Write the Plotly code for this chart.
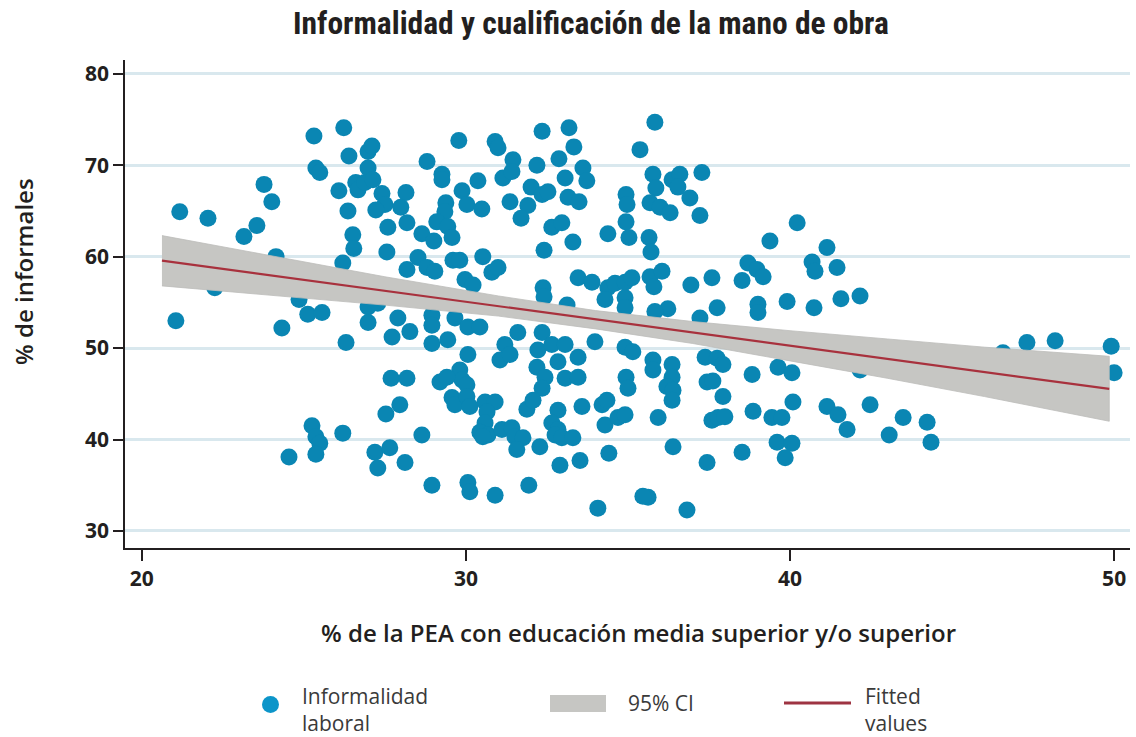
import plotly.graph_objects as go

# ---- data ----
pea_x = [21.17, 22.04, 23.77, 24.01, 23.55, 23.15, 24.14, 22.25, 25.31, 26.23, 26.39, 26.98, 27.10, 25.37, 25.49,
         26.98, 26.08, 26.60, 26.67, 26.88, 27.13, 27.41, 27.50, 27.22, 26.36, 26.51, 26.54, 27.59, 27.56, 26.20,
         24.85, 25.12, 25.56, 26.98, 27.28, 21.05, 24.32, 26.98, 26.30, 27.72, 27.69, 27.53, 25.25, 25.37, 25.49,
         25.37, 26.20, 24.54, 27.19, 27.65, 27.28, 29.78, 30.90, 30.99, 32.35, 33.18, 33.33, 28.80, 31.45, 32.87,
         32.19, 29.26, 29.26, 33.61, 33.73, 31.14, 31.42, 33.06, 30.37, 32.01, 29.88, 32.35, 32.53, 33.15, 33.49,
         28.15, 27.99, 29.38, 29.35, 30.03, 30.49, 31.36, 31.91, 31.70, 34.94, 34.97, 34.94, 35.03, 29.10, 28.18,
         29.44, 29.57, 28.64, 29.01, 32.65, 32.96, 34.38, 33.30, 32.41, 30.52, 29.60, 29.81, 28.52, 28.80, 28.18,
         29.04, 30.80, 30.99, 29.97, 30.22, 33.46, 33.89, 32.38, 32.41, 34.38, 34.60, 34.91, 35.12, 34.29, 34.91,
         27.90, 28.95, 29.66, 33.12, 34.91, 35.83, 35.37, 35.77, 35.86, 36.36, 36.60, 36.54, 36.91, 37.28, 37.22,
         35.68, 35.99, 36.30, 35.65, 35.71, 40.22, 39.38, 41.14, 35.68, 35.80, 36.05, 36.94, 37.59, 38.52, 38.70,
         38.98, 39.17, 40.68, 40.77, 41.45, 39.91, 40.74, 41.57, 42.16, 39.01, 39.01, 37.75, 36.23, 37.22, 28.27,
         28.95, 30.06, 30.43, 28.95, 29.44, 31.60, 32.35, 32.22, 32.19, 32.65, 33.06, 33.46, 33.98, 34.91, 31.20,
         31.05, 31.36, 30.06, 32.84, 29.81, 29.88, 28.18, 29.20, 29.41, 30.03, 32.44, 33.06, 33.46, 32.35, 34.94,
         35.00, 29.57, 29.66, 30.03, 30.12, 30.59, 30.90, 30.65, 30.59, 27.96, 31.88, 32.07, 32.84, 32.65, 32.84,
         33.58, 34.20, 34.35, 34.29, 34.69, 34.91, 30.43, 30.68, 30.52, 31.11, 31.42, 31.51, 31.76, 31.57, 32.75,
         32.96, 33.30, 28.64, 32.28, 34.41, 33.52, 32.90, 28.12, 28.95, 30.06, 30.12, 30.90, 31.94, 34.07, 35.83,
         35.15, 35.77, 35.77, 36.36, 36.36, 36.20, 36.39, 36.36, 37.38, 37.75, 37.93, 37.44, 37.62, 37.93, 38.83,
         39.63, 40.06, 40.09, 41.14, 41.48, 41.76, 42.47, 35.93, 37.59, 37.78, 37.99, 38.86, 39.44, 39.75, 39.60,
         40.06, 39.85, 36.39, 38.52, 37.44, 35.62, 36.82, 43.49, 44.23, 44.35, 43.06, 47.31, 48.18, 49.91, 50.00,
         46.57, 42.16, 35.46]
informal_y = [64.9, 64.2, 67.9, 66.0, 63.4, 62.2, 60.0, 56.6, 73.2, 74.1, 71.0, 71.5, 72.1, 69.7, 69.2,
              69.7, 67.2, 68.1, 67.3, 68.1, 68.4, 66.9, 65.7, 65.1, 65.0, 62.4, 60.9, 63.2, 60.5, 59.3,
              55.3, 53.7, 53.9, 54.5, 54.9, 53.0, 52.2, 52.8, 50.6, 51.2, 46.7, 42.8, 41.5, 40.3, 39.6,
              38.4, 40.7, 38.1, 38.6, 39.1, 36.9, 72.7, 72.6, 71.9, 73.7, 74.1, 72.0, 70.4, 70.6, 70.7,
              70.0, 69.0, 68.4, 69.7, 68.3, 68.6, 69.3, 68.6, 68.3, 67.6, 67.2, 66.8, 67.1, 66.5, 66.0,
              67.0, 65.4, 65.9, 64.9, 65.7, 65.2, 66.0, 65.6, 64.2, 66.8, 65.7, 63.8, 62.1, 63.8, 63.7,
              63.3, 62.1, 62.5, 61.7, 63.2, 63.7, 62.5, 61.6, 60.7, 60.0, 59.6, 59.6, 59.9, 58.8, 58.6,
              58.4, 58.3, 58.8, 57.5, 56.9, 57.7, 57.2, 56.6, 55.6, 56.6, 57.1, 57.2, 57.7, 55.3, 55.5,
              53.3, 53.6, 53.3, 54.7, 54.4, 74.7, 71.7, 69.0, 67.5, 68.4, 69.0, 67.6, 66.4, 69.2, 64.5,
              65.9, 65.4, 64.8, 62.1, 60.5, 63.7, 61.7, 61.0, 57.8, 56.7, 58.4, 56.9, 57.7, 57.4, 59.3,
              58.6, 57.8, 59.4, 58.4, 58.8, 55.1, 54.4, 55.4, 55.7, 54.8, 53.9, 54.4, 54.3, 53.3, 51.8,
              52.5, 52.3, 52.3, 50.5, 50.9, 51.7, 51.7, 49.8, 47.9, 50.4, 50.4, 49.0, 50.7, 50.1, 50.4,
              48.7, 49.3, 49.3, 48.5, 47.6, 46.5, 46.7, 46.3, 46.8, 46.0, 46.8, 46.7, 46.8, 45.6, 46.8,
              45.6, 44.6, 43.8, 44.7, 43.6, 44.1, 44.1, 43.0, 41.8, 43.8, 43.3, 44.3, 43.2, 41.8, 41.1,
              43.6, 43.8, 44.3, 41.6, 42.4, 42.7, 40.8, 40.5, 40.3, 41.1, 41.3, 40.3, 40.2, 38.9, 40.5,
              40.2, 40.2, 40.5, 39.2, 38.5, 37.7, 37.2, 37.5, 35.0, 35.3, 34.3, 33.9, 35.0, 32.5, 54.0,
              49.6, 48.7, 47.6, 48.2, 46.8, 45.8, 45.4, 44.3, 49.0, 48.9, 48.2, 46.3, 46.4, 44.7, 47.1,
              47.9, 47.3, 44.1, 43.6, 42.7, 41.1, 43.8, 42.4, 42.1, 42.4, 42.5, 43.1, 42.4, 42.4, 39.7,
              39.6, 38.0, 39.2, 38.6, 37.5, 33.7, 32.3, 42.4, 41.9, 39.7, 40.5, 50.6, 50.8, 50.2, 47.3,
              49.5, 47.6, 33.8]

fit_x = [20.62, 49.85]
fit_y = [59.57, 45.53]

ci_x = [20.62, 24, 27.5, 31, 34, 37, 40, 43, 46, 49.85]
ci_lo = [56.8, 55.8, 54.7, 53.5, 52.1, 50.5, 48.6, 46.7, 44.7, 42.0]
ci_hi = [62.3, 60.1, 57.8, 55.7, 54.1, 52.9, 51.9, 51.0, 50.1, 49.1]

x_ticks = [20, 30, 40, 50]
y_ticks = [30, 40, 50, 60, 70, 80]

title_text = "Informalidad y cualificación de la mano de obra"
x_title = "% de la PEA con educación media superior y/o superior"
y_title = "% de informales"
legend_labels = ["Informalidad<br>laboral", "95% CI", "Fitted<br>values"]

# ---- styles / layout ----
DOT = "#0a86b3"
BAND = "#c6c6c3"
LINE = "#a8313d"
DARK = "#231f20"
GRID = "#d9e8ee"
W, H = 1136, 737
# plot area in page pixels
PL, PR, PT, PB = 125, 1130, 60, 548


def px(xp):
    return (xp - PL) / (PR - PL)


def py(yp):
    return (PB - yp) / (PB - PT)


fig = go.Figure()
fig.add_trace(go.Scatter(x=pea_x, y=informal_y, mode="markers",
                         marker=dict(size=17, color=DOT, line=dict(width=0)),
                         name="Informalidad laboral", showlegend=False,
                         cliponaxis=False))
fig.add_trace(go.Scatter(x=ci_x + ci_x[::-1], y=ci_hi + ci_lo[::-1], mode="lines",
                         fill="toself", fillcolor=BAND, line=dict(width=0.8, color="#bdbdba"),
                         name="95% CI", showlegend=False, hoverinfo="skip"))
fig.add_trace(go.Scatter(x=fit_x, y=fit_y, mode="lines",
                         line=dict(color=LINE, width=2.2),
                         name="Fitted values", showlegend=False))

tick_font = dict(family="Open Sans, DejaVu Sans, sans-serif", size=21, color=DARK, weight=700)
title_font = dict(family="Open Sans, DejaVu Sans, sans-serif", size=24, color=DARK, weight=600)

fig.update_layout(
    width=W, height=H,
    margin=dict(l=PL, r=W - PR, t=PT, b=H - PB, autoexpand=False),
    paper_bgcolor="white", plot_bgcolor="white",
    showlegend=False,
    title=dict(text=title_text, x=591 / W, xanchor="center", y=1 - 23 / H,
               yanchor="middle",
               font=dict(family="Roboto Condensed, Liberation Sans Narrow, Roboto, sans-serif",
                         size=31.5, color=DARK, weight=700)),
    xaxis=dict(range=[19.48, 50.49], tickvals=x_ticks, ticks="outside", ticklen=11, tickwidth=1.5,
               tickcolor=DARK, showline=True, linecolor=DARK, linewidth=1.5, showgrid=False,
               zeroline=False, tickfont=tick_font),
    yaxis=dict(range=[28.14, 81.5], tickvals=y_ticks, ticks="outside", ticklen=10, tickwidth=1.5,
               tickcolor=DARK, showline=True, linecolor=DARK, linewidth=1.5, showgrid=True,
               gridcolor=GRID, gridwidth=2.5, zeroline=False, tickfont=tick_font),
)

# axis titles placed where the reference shows them
fig.add_annotation(xref="paper", yref="paper", x=px(638), y=py(632), text=x_title,
                   showarrow=False, xanchor="center", yanchor="middle", font=title_font)
fig.add_annotation(xref="paper", yref="paper", x=px(23), y=py(272), text=y_title,
                   showarrow=False, xanchor="center", yanchor="middle", textangle=-90,
                   font=title_font)

# ---- legend drawn below the plot ----
leg_font = dict(family="Open Sans, DejaVu Sans, sans-serif", size=21, color="#3a3a3a")
fig.add_shape(type="circle", xref="paper", yref="paper",
              x0=px(262), x1=px(279), y0=py(713), y1=py(696),
              fillcolor="#0c95c9", line=dict(width=0))
fig.add_shape(type="rect", xref="paper", yref="paper",
              x0=px(550), x1=px(606), y0=py(712), y1=py(695),
              fillcolor=BAND, line=dict(width=0))
fig.add_shape(type="line", xref="paper", yref="paper",
              x0=px(784), x1=px(851), y0=py(703), y1=py(703),
              line=dict(color="#9e3442", width=3))
for xpos, ypos, label in zip([300, 626, 863], [709, 703, 709], legend_labels):
    fig.add_annotation(xref="paper", yref="paper", x=px(xpos), y=py(ypos), text=label,
                       showarrow=False, xanchor="left", yanchor="middle", align="left",
                       font=leg_font)

# remove the page's default body margin so the figure fills the window exactly
fig.write_html("out.html", config={"displayModeBar": False},
               post_script="document.body.style.margin='0';document.body.style.overflow='hidden';")
